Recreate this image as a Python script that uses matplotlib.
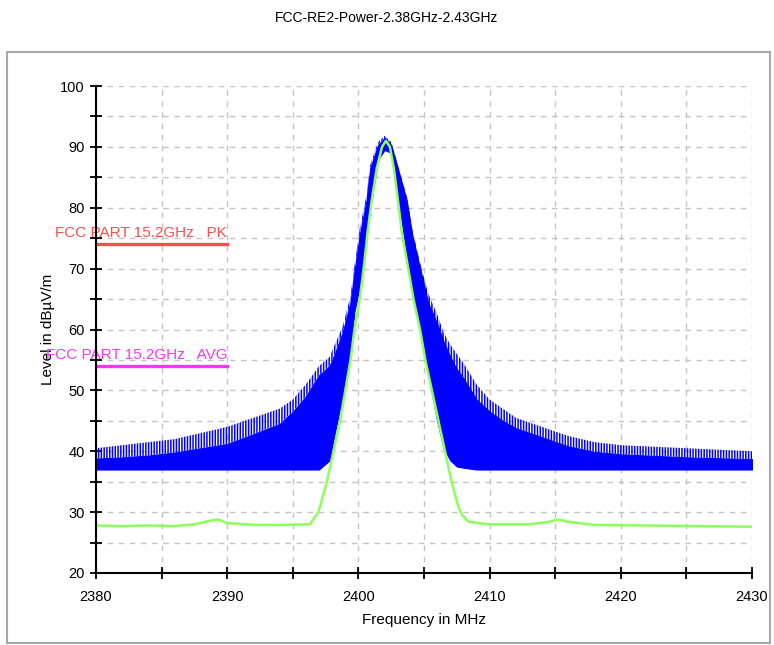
import matplotlib
matplotlib.use("Agg")
import matplotlib.pyplot as plt
from matplotlib.patches import Rectangle
from matplotlib.ticker import MultipleLocator

plt.rcParams['font.family'] = ['Liberation Sans Narrow', 'Liberation Sans', 'DejaVu Sans']
plt.rcParams['hatch.linewidth'] = 1.1

# peak trace (blue), read as envelopes off the plot
blue_freq = [2380, 2382, 2384, 2386, 2388, 2390, 2392, 2394, 2395, 2396,
             2397, 2397.8, 2398.2, 2398.8, 2399.4, 2399.7, 2400.1, 2400.6, 2400.9, 2401.5,
             2402.0, 2402.5, 2403.0, 2403.7, 2404.1, 2404.7, 2405.3, 2406.0, 2406.5, 2407.0,
             2407.5, 2408.0, 2409, 2410, 2411, 2412, 2414, 2416, 2418, 2420,
             2425, 2430]
blue_upper = [40.5, 41, 41.5, 42, 43, 44, 45.5, 47, 48.5, 51,
              54, 55.5, 57.5, 60.5, 65.5, 70.5, 76.5, 81.8, 87, 90.8,
              91.8, 90.8, 87, 81.8, 76.5, 71, 66, 62.5, 59.5, 57.5,
              56, 54.5, 51, 48.5, 47, 45.5, 44, 42.5, 41.5, 41,
              40.5, 40]
blue_dense = [38.8, 39, 39.3, 39.8, 40.5, 41.2, 42.8, 44.5, 46.5, 49,
              52.5, 54, 56, 59.5, 64.5, 69.5, 75.5, 81, 86.5, 90.3,
              91.5, 90.3, 86.5, 81, 75.5, 70, 64.5, 61, 58, 55.5,
              53.5, 52, 48.5, 46.5, 45, 43.8, 42.3, 40.8, 39.9, 39.5,
              39, 38.7]
blue_lower = [37, 37, 37, 37, 37, 37, 37, 37, 37, 37,
              37, 38.5, 43, 49, 57, 63, 67, 75, 80, 88,
              89.5, 89, 82, 72, 66, 60, 53, 45, 40.5, 38.5,
              37.5, 37.3, 37, 37, 37, 37, 37, 37, 37, 37,
              37, 37]

# average trace (green)
green_freq = [2380, 2382, 2384, 2386, 2387.5, 2388.5, 2389.3, 2390, 2392, 2394,
              2396.3, 2396.95, 2397.6, 2398.1, 2398.6, 2399.0, 2399.4, 2399.7, 2400.1, 2400.4,
              2400.7, 2401.0, 2401.4, 2401.8, 2402.1, 2402.4, 2402.7, 2403.0, 2403.3, 2403.8,
              2404.2, 2404.7, 2405.1, 2405.6, 2406.1, 2406.6, 2407.1, 2407.6, 2407.9, 2408.4,
              2410, 2413, 2414.5, 2415.2, 2416, 2418, 2422, 2426, 2430]
green_val = [27.8, 27.7, 27.8, 27.7, 28.0, 28.5, 28.8, 28.2, 27.9, 27.9,
             28.0, 30, 35, 40, 45, 50, 55, 60, 65, 70,
             76, 81, 86.5, 90, 91, 90, 86.5, 81.5, 76, 70,
             65, 60, 55, 50, 45, 40, 35, 31, 29.5, 28.4,
             28.0, 28.0, 28.4, 28.8, 28.4, 27.9, 27.8, 27.7, 27.6]

# limit lines
limit_freq = [2380, 2390]
pk_limit = [74, 74]
avg_limit = [54, 54]

fig = plt.figure(figsize=(7.74, 6.45), dpi=100)
ax = fig.add_axes([96/774, 72/645, 656/774, 487/645])

fig.add_artist(Rectangle((7/774, 2/645), 763/774, 591/645, transform=fig.transFigure,
                         fill=False, edgecolor='#a8a8a8', linewidth=1.5))

ax.fill_between(blue_freq, blue_lower, blue_dense, color='#0000ff', linewidth=0.8, zorder=3)
ax.fill_between(blue_freq, blue_dense, blue_upper, facecolor='none', edgecolor='#0000ff',
                hatch='||||||', linewidth=0, zorder=3)
ax.plot(green_freq, green_val, color='#8cff5a', linewidth=1.8, zorder=4)

ax.plot(limit_freq, pk_limit, color='#ff4d4d', linewidth=2.4, zorder=5)
ax.plot(limit_freq, avg_limit, color='#ff33ff', linewidth=2.4, zorder=5)
ax.text(2390, 75.9, 'FCC PART 15.2GHz   PK', color='#ff4d4d', ha='right', va='center',
        fontsize=11, zorder=6)
ax.text(2390, 55.8, 'FCC PART 15.2GHz   AVG', color='#ff33ff', ha='right', va='center',
        fontsize=11, zorder=6)

ax.set_xlim(2380, 2430)
ax.set_ylim(20, 100)
ax.xaxis.set_major_locator(MultipleLocator(10))
ax.xaxis.set_minor_locator(MultipleLocator(5))
ax.yaxis.set_major_locator(MultipleLocator(10))
ax.yaxis.set_minor_locator(MultipleLocator(5))
ax.tick_params(which='both', direction='inout', length=9, width=1.3, labelsize=10.5)
ax.tick_params(axis='x', pad=8)

ax.grid(which='both', color='#c4c4c4', linestyle=(0, (4, 4)), linewidth=1)
ax.set_axisbelow(True)
for s in ['top', 'right']:
    ax.spines[s].set_visible(False)
for s in ['left', 'bottom']:
    ax.spines[s].set_linewidth(1.5)
    ax.spines[s].set_zorder(7)

ax.set_xlabel('Frequency in MHz', fontsize=11, labelpad=6)
ax.set_ylabel('Level in dBµV/m', fontsize=11, labelpad=4)
fig.text(0.5, 1 - 18/645, 'FCC-RE2-Power-2.38GHz-2.43GHz', ha='center', va='center', fontsize=10)

fig.savefig('out.png', dpi=100)
